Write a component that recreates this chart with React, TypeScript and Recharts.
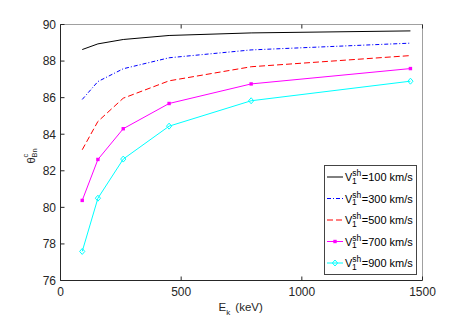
import { LineChart, Line, XAxis, YAxis, Legend } from 'recharts';

// E_k values (keV)
const ek = [90, 155, 260, 450, 790, 1450];

// critical theta_Bn for each shock speed
const v100 = [88.63, 88.94, 89.18, 89.4, 89.54, 89.65];
const v300 = [85.9, 86.88, 87.58, 88.18, 88.61, 88.98];
const v500 = [83.15, 84.7, 85.97, 86.92, 87.69, 88.3];
const v700 = [80.38, 82.62, 84.3, 85.68, 86.75, 87.59];
const v900 = [77.59, 80.5, 82.64, 84.44, 85.83, 86.9];

const speeds = ['100', '300', '500', '700', '900'];
const xTicks = [0, 500, 1000, 1500];
const yTicks = [76, 78, 80, 82, 84, 86, 88, 90];

const data = ek.map((e, i) => ({
  ek: e,
  v100: v100[i],
  v300: v300[i],
  v500: v500[i],
  v700: v700[i],
  v900: v900[i],
}));

const FONT = '"Liberation Sans", Arial, Helvetica, sans-serif';
const AX = '#262626';

const STYLES = [
  { key: 'v100', color: '#000000', dash: undefined, marker: 'none' },
  { key: 'v300', color: '#0000ff', dash: '4 2 1 2', marker: 'none' },
  { key: 'v500', color: '#ff0000', dash: '6 3', marker: 'none' },
  { key: 'v700', color: '#ff00ff', dash: undefined, marker: 'square' },
  { key: 'v900', color: '#00ffff', dash: undefined, marker: 'diamond' },
];

function Marker({ cx, cy, kind, color }: any) {
  if (kind === 'square') {
    return <rect x={cx - 1.7} y={cy - 1.7} width={3.4} height={3.4} fill={color} />;
  }
  if (kind === 'diamond') {
    return (
      <path
        d={`M${cx},${cy - 3} L${cx + 2.6},${cy} L${cx},${cy + 3} L${cx - 2.6},${cy} Z`}
        fill="none"
        stroke={color}
        strokeWidth={1}
      />
    );
  }
  return null;
}

const BottomTick = ({ x, y, payload }: any) => (
  <g>
    <line x1={x} x2={x} y1={y} y2={y - 4} stroke={AX} />
    <text x={x} y={y + 15.5} textAnchor="middle" fontSize={12} fill={AX} fontFamily={FONT}>
      {payload.value}
    </text>
  </g>
);
const TopTick = ({ x, y }: any) => <line x1={x} x2={x} y1={y} y2={y + 4} stroke={AX} />;
const LeftTick = ({ x, y, payload }: any) => (
  <g>
    <line x1={x} x2={x + 4} y1={y} y2={y} stroke={AX} />
    <text x={x - 4.5} y={y + 4.3} textAnchor="end" fontSize={12} fill={AX} fontFamily={FONT}>
      {payload.value}
    </text>
  </g>
);
const RightTick = ({ x, y }: any) => <line x1={x} x2={x - 4} y1={y} y2={y} stroke={AX} />;

const YLabel = () => (
  <text transform="rotate(-90)" x={-163.5} y={35} fontSize={11} fill={AX} fontFamily={FONT}>
    θ
    <tspan dy={-7.5} fontSize={7.5}>c</tspan>
    <tspan dx={-3.8} dy={9.2} fontSize={7.5}>Bn</tspan>
  </text>
);

const XLabel = () => (
  <text x={218.5} y={310.5} fontSize={11.5} fill={AX} fontFamily={FONT}>
    E
    <tspan dy={4} fontSize={8}>k</tspan>
    <tspan dx={2} dy={-4}> (keV)</tspan>
  </text>
);

const LegendBox = () => (
  <svg width={93} height={110} style={{ display: 'block' }}>
    <rect x={0.5} y={0.5} width={92} height={109} fill="#fff" stroke="#444" />
    {STYLES.map((s, i) => {
      const cy = 12 + i * 21.5;
      return (
        <g key={s.key}>
          <line x1={3} x2={19} y1={cy} y2={cy} stroke={s.color} strokeDasharray={s.dash} />
          <Marker cx={11} cy={cy} kind={s.marker} color={s.color} />
          <text x={21} y={cy + 4} fontSize={11} fill="#000" fontFamily={FONT}>
            V
            <tspan dy={-5} fontSize={8.5}>sh</tspan>
            <tspan dx={-9.3} dy={7.5} fontSize={8.5}>1</tspan>
            <tspan dx={5} dy={-2.5}>={speeds[i]} km/s</tspan>
          </text>
        </g>
      );
    })}
  </svg>
);

export default function App() {
  return (
    <div style={{ position: 'absolute', left: 0, top: 0, background: '#fff' }}>
      <LineChart
        width={466}
        height={319}
        data={data}
        margin={{ top: 19.5, right: 38.5, bottom: 18.5, left: 40.5 }}
        style={{ fontFamily: FONT }}
      >
        <XAxis
          dataKey="ek"
          type="number"
          domain={[0, 1500]}
          ticks={xTicks}
          height={20}
          tickSize={0}
          tickMargin={0}
          tickLine={false}
          tick={<BottomTick />}
          stroke={AX}
          interval={0}
        />
        <XAxis
          xAxisId="top"
          orientation="top"
          dataKey="ek"
          type="number"
          domain={[0, 1500]}
          ticks={xTicks}
          height={5}
          tickSize={0}
          tickMargin={0}
          tickLine={false}
          tick={<TopTick />}
          stroke="#a0a0a0"
          interval={0}
        />
        <YAxis
          type="number"
          domain={[76, 90]}
          ticks={yTicks}
          width={20}
          tickSize={0}
          tickMargin={0}
          tickLine={false}
          tick={<LeftTick />}
          stroke={AX}
          interval={0}
          label={<YLabel />}
        />
        <YAxis
          yAxisId="right"
          orientation="right"
          type="number"
          domain={[76, 90]}
          ticks={yTicks}
          width={5}
          tickSize={0}
          tickMargin={0}
          tickLine={false}
          tick={<RightTick />}
          stroke="#a0a0a0"
          interval={0}
        />
        {STYLES.map((s) => (
          <Line
            key={s.key}
            dataKey={s.key}
            stroke={s.color}
            strokeWidth={1}
            strokeDasharray={s.dash}
            type="linear"
            isAnimationActive={false}
            activeDot={false}
            dot={
              s.marker === 'none'
                ? false
                : (p: any) => (
                    <Marker key={`${s.key}-${p.index}`} cx={p.cx} cy={p.cy} kind={s.marker} color={s.color} />
                  )
            }
          />
        ))}
        <Legend
          layout="vertical"
          align="center"
          verticalAlign="middle"
          content={<LegendBox />}
          wrapperStyle={{ left: 324, top: 165, width: 93, height: 110 }}
        />
      </LineChart>
      <svg width={466} height={319} style={{ position: 'absolute', left: 0, top: 0, pointerEvents: 'none' }}>
        <XLabel />
      </svg>
    </div>
  );
}
